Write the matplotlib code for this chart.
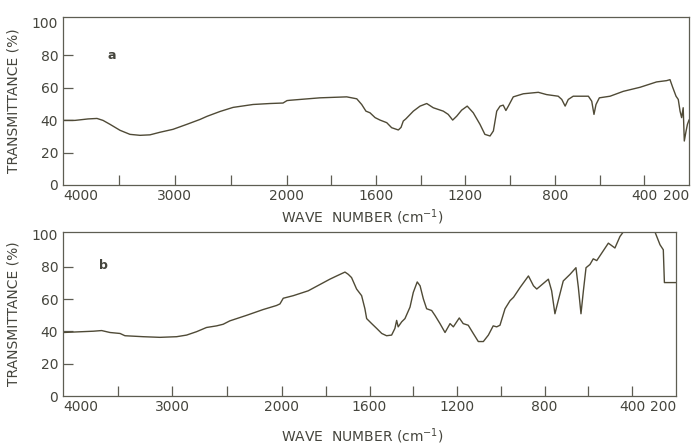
import numpy as np
import matplotlib
matplotlib.use("Agg")
import matplotlib.pyplot as plt

# ---------------- data ----------------
wn_a = [4000, 3893, 3776, 3696, 3642, 3580, 3490, 3401, 3311, 3222, 3132, 3016,
        2891, 2774, 2712, 2595, 2479, 2300, 2148, 2032, 1998, 1985, 1851, 1731,
        1686, 1664, 1645, 1627, 1604, 1582, 1552, 1530, 1500, 1488, 1478, 1466,
        1433, 1403, 1373, 1344, 1299, 1277, 1257, 1239, 1217, 1192, 1165, 1135,
        1113, 1090, 1075, 1060, 1045, 1031, 1019, 1008, 986, 941, 874, 837, 785,
        769, 754, 740, 718, 650, 635, 625, 616, 601, 553, 494, 419, 345, 300, 285,
        273, 258, 248, 240, 233, 226, 221, 213, 207, 200]
tr_a = [39.8, 39.8, 40.7, 41.0, 39.8, 37.4, 33.7, 31.2, 30.6, 30.9, 32.5, 34.3,
        37.4, 40.4, 42.3, 45.3, 47.8, 49.6, 50.2, 50.5, 52.0, 52.2, 53.7, 54.3,
        53.1, 49.6, 45.5, 44.5, 41.5, 40.0, 38.4, 35.3, 33.9, 35.5, 39.4, 40.8,
        45.5, 48.6, 50.2, 47.6, 45.5, 43.5, 40.0, 42.4, 46.1, 48.6, 44.5, 37.4,
        31.2, 30.2, 33.3, 45.5, 48.6, 49.2, 45.9, 48.6, 54.3, 56.2, 57.1, 55.7, 54.7,
        52.7, 48.6, 52.7, 54.7, 54.7, 51.6, 43.5, 49.6, 53.7, 54.7, 57.7, 60.2, 63.5,
        64.3, 64.9, 60.2, 54.7, 52.7, 45.5, 41.5, 47.6, 27.1, 33.3, 37.4, 40.0]

wn_b = [4000, 3723, 3647, 3571, 3479, 3434, 3267, 3114, 2962, 2871, 2780, 2689,
        2597, 2537, 2476, 2324, 2172, 2050, 2018, 1994, 1948, 1880, 1781, 1750,
        1712, 1697, 1682, 1659, 1636, 1621, 1613, 1590, 1567, 1544, 1522, 1499,
        1484, 1476, 1469, 1453, 1438, 1415, 1400, 1382, 1369, 1354, 1339, 1316,
        1301, 1278, 1255, 1232, 1217, 1190, 1172, 1149, 1126, 1103, 1080, 1057,
        1035, 1019, 1004, 981, 958, 942, 912, 874, 851, 836, 783, 768, 753, 738,
        715, 684, 657, 646, 634, 623, 611, 593, 578, 562, 509, 479, 456, 441, 296,
        273, 258, 253, 200]
tr_b = [39.3, 40.1, 40.5, 39.3, 38.7, 37.3, 36.7, 36.3, 36.7, 37.7, 39.8, 42.4,
        43.4, 44.4, 46.5, 49.9, 53.5, 56.0, 57.0, 60.5, 62.1, 65.1, 72.3, 74.3,
        76.7, 75.3, 73.3, 66.2, 62.1, 54.0, 47.9, 44.8, 41.8, 38.7, 37.3, 37.7,
        41.8, 46.8, 42.8, 45.9, 47.9, 55.0, 64.1, 70.6, 68.2, 60.1, 54.0, 52.9,
        49.9, 44.8, 39.3, 44.8, 42.8, 48.3, 44.8, 43.8, 38.7, 33.7, 33.7, 37.7,
        43.4, 42.8, 43.8, 54.0, 59.0, 61.1, 67.2, 74.3, 68.2, 66.2, 72.3, 65.1, 50.9, 59.0,
        71.2, 75.3, 79.4, 67.2, 50.9, 65.1, 79.4, 81.4, 84.9, 83.8, 94.6, 91.6, 98.7, 101.5, 101.5,
        93.6, 90.5, 70.2, 70.2]

x_tick_values = [4000, 3000, 2000, 1600, 1200, 800, 400, 200]
x_tick_labels = ["4000", "3000", "2000", "1600", "1200", "800", "400", "200"]
x_minor_values = [3500, 2500, 1800, 1400, 1000, 600]
y_tick_values = [0, 20, 40, 60, 80, 100]
y_tick_labels = ["0", "20", "40", "60", "80", "100"]
panel_labels = ["a", "b"]

# ---------------- styling ----------------
LINE = "#4f4a36"
SPINE = "#5e5d52"
TEXT = "#45453d"
plt.rcParams['font.family'] = ['DejaVu Sans']


def fwd(w):
    # IR chart scale: 4000-2000 cm-1 at half the scale of 2000-200 cm-1
    w = np.asarray(w, dtype=float)
    return np.where(w >= 2000, (4000 - w) / 2.0, 1000 + (2000 - w))


def inv(u):
    u = np.asarray(u, dtype=float)
    return np.where(u <= 1000, 4000 - 2.0 * u, 2000 - (u - 1000))


fig = plt.figure(figsize=(6.92, 4.45), dpi=100)
ax_a = fig.add_axes([63 / 692, (445 - 185) / 445, 626 / 692, 168 / 445])
ax_b = fig.add_axes([63 / 692, (445 - 396) / 445, 613 / 692, 164 / 445])

setups = [
    (ax_a, wn_a, tr_a, 103.5, (3562, 80), 0.479, 3),
    (ax_b, wn_b, tr_b, 101.5, (3635, 80.5), 0.489, 9),
]

for i, (ax, wn, tr, ytop, lab_pos, xl, lpad) in enumerate(setups):
    ax.set_xscale('function', functions=(fwd, inv))
    ax.plot(wn, tr, color=LINE, lw=1.0, solid_joinstyle='round')
    ax.set_xticks(x_tick_values)
    ax.set_xticklabels(x_tick_labels)
    ax.set_xticks(x_minor_values, minor=True)
    ax.set_yticks(y_tick_values)
    ax.set_yticklabels(y_tick_labels)
    # the scale function decreases, so increasing limits put 4000 on the left
    ax.set_xlim(200, 4000)
    ax.set_ylim(0, ytop)
    ax.tick_params(axis='both', which='both', direction='in', length=7,
                   width=0.9, color=SPINE, labelcolor=TEXT, labelsize=10)
    ax.tick_params(axis='x', which='both', pad=3, top=False)
    ax.tick_params(axis='y', which='both', pad=3.5, left=True, right=False)
    for s in ax.spines.values():
        s.set_color(SPINE)
        s.set_linewidth(0.9)
    # hide marks that sit on the frame
    yt = ax.yaxis.get_major_ticks()
    yt[0].tick1line.set_visible(False)
    yt[-1].tick1line.set_visible(False)
    xt = ax.xaxis.get_major_ticks()
    xt[0].tick1line.set_visible(False)
    xt[-1].tick1line.set_visible(False)
    labels = ax.get_xticklabels()
    labels[0].set_horizontalalignment('left')
    labels[-1].set_horizontalalignment('right')
    ax.set_ylabel("TRANSMITTANCE (%)", color=TEXT, fontsize=10, labelpad=8)
    ax.set_xlabel("WAVE  NUMBER (cm$^{-1}$)", color=TEXT, fontsize=10,
                  x=xl, labelpad=lpad)
    ax.text(lab_pos[0], lab_pos[1], panel_labels[i], color=TEXT, fontsize=9,
            fontweight='bold', ha='center', va='center')

fig.savefig("out.png", dpi=100)
